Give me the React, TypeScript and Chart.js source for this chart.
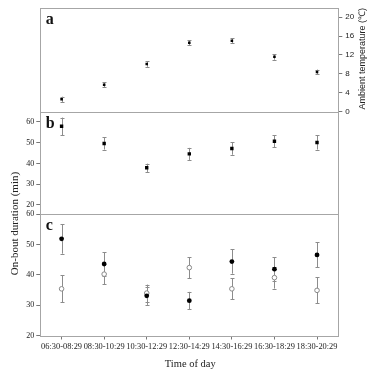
import React, { useEffect, useRef } from "react";
import { Chart, registerables } from "chart.js";
Chart.register(...registerables);

const categories = ["06:30-08:29", "08:30-10:29", "10:30-12:29", "12:30-14:29", "14:30-16:29", "16:30-18:29", "18:30-20:29"];
const temperature = [2.6, 5.7, 10.1, 14.6, 15.0, 11.6, 8.4];
const temperatureErr = [0.55, 0.55, 0.6, 0.5, 0.5, 0.6, 0.5];
const onBoutAll = [57.9, 49.6, 37.9, 44.6, 47.2, 50.7, 50.1];
const onBoutAllErr = [4.2, 2.9, 2.0, 2.9, 3.0, 3.0, 3.4];
const onBoutFilled = [51.9, 43.6, 33.1, 31.5, 44.4, 41.9, 46.6];
const onBoutFilledErr = [4.9, 3.8, 3.0, 2.9, 4.0, 3.9, 4.15];
const onBoutOpen = [35.4, 40.25, 34.0, 42.4, 35.4, 39.1, 34.9];
const onBoutOpenErr = [4.45, 3.4, 2.8, 3.45, 3.45, 3.6, 4.25];
const tempTicks = [0, 4, 8, 12, 16, 20];
const durationTicks = [20, 30, 40, 50, 60];
const panelLetters = ["a", "b", "c"];

const SERIF = "'Liberation Serif', 'Times New Roman', serif";
const SANS = "'Liberation Sans', Arial, sans-serif";
const FRAME = "#a6a6a6";
const TICKC = "#777";
const ERRC = "#8c8c8c";
const TEXT = "#222";

const errorBarPlugin = {
  id: "errorBars",
  beforeDatasetsDraw(chart: any) {
    const ctx = chart.ctx;
    chart.data.datasets.forEach((ds: any, i: number) => {
      const errs = ds.errors as number[] | undefined;
      if (!errs) return;
      const meta = chart.getDatasetMeta(i);
      const scale = chart.scales[ds.yAxisID];
      ctx.save();
      ctx.strokeStyle = ERRC;
      ctx.lineWidth = 1;
      meta.data.forEach((pt: any, j: number) => {
        const v = ds.data[j];
        const e = errs[j];
        const x = Math.round(pt.x) + 0.5;
        const yt = scale.getPixelForValue(v + e);
        const yb = scale.getPixelForValue(v - e);
        const cap = 2;
        ctx.beginPath();
        ctx.moveTo(x, yt);
        ctx.lineTo(x, yb);
        ctx.moveTo(x - cap, Math.round(yt) + 0.5);
        ctx.lineTo(x + cap, Math.round(yt) + 0.5);
        ctx.moveTo(x - cap, Math.round(yb) + 0.5);
        ctx.lineTo(x + cap, Math.round(yb) + 0.5);
        ctx.stroke();
      });
      ctx.restore();
    });
  },
};

const framePlugin = {
  id: "frame",
  beforeDatasetsDraw(chart: any) {
    const { ctx, chartArea } = chart;
    const { left, right, top, bottom } = chartArea;
    ctx.save();
    ctx.strokeStyle = FRAME;
    ctx.lineWidth = 1;
    const r = (v: number) => Math.round(v) + 0.5;
    ctx.strokeRect(r(left), r(top), Math.round(right - left), Math.round(bottom - top));
    ctx.beginPath();
    [chart.scales.yb.top, chart.scales.yc.top].forEach((y: number) => {
      ctx.moveTo(left, r(y));
      ctx.lineTo(right, r(y));
    });
    ctx.stroke();
    ctx.restore();
  },
  afterDraw(chart: any) {
    const { ctx, chartArea } = chart;
    ctx.save();
    ctx.fillStyle = "#111";
    ctx.font = `bold 16px ${SERIF}`;
    ctx.textAlign = "left";
    ctx.textBaseline = "alphabetic";
    ["ya", "yb", "yc"].forEach((id, i) => {
      ctx.fillText(panelLetters[i], chartArea.left + 5.5, chart.scales[id].top + 16);
    });
    // left title
    ctx.fillStyle = TEXT;
    ctx.font = `11px ${SERIF}`;
    ctx.textAlign = "center";
    ctx.textBaseline = "middle";
    const cy = (chart.scales.yb.top + chart.scales.yc.bottom) / 2;
    ctx.save();
    ctx.translate(15, cy);
    ctx.rotate(-Math.PI / 2);
    ctx.fillText("On-bout duration (min)", 0, 0);
    ctx.restore();
    // right title
    ctx.font = `9px ${SANS}`;
    const ay = (chart.scales.ya.top + chart.scales.ya.bottom) / 2 - 1;
    ctx.save();
    ctx.translate(363, ay);
    ctx.rotate(-Math.PI / 2);
    ctx.fillText("Ambient temperature (\u2103)", 0, 0);
    ctx.restore();
    // x title
    ctx.font = `10.5px ${SERIF}`;
    ctx.fillText("Time of day", (chartArea.left + chartArea.right) / 2 + 1, 364);
    ctx.restore();
  },
};

const fixedTicks = (vals: number[]) => (axis: any) => {
  axis.ticks = vals.map((v) => ({ value: v }));
};

const leftAxis = (weight: number, min: number, max: number, ticks: number[] | null) => ({
  type: "linear" as const,
  position: "left" as const,
  stack: "L",
  stackWeight: weight,
  min,
  max,
  display: true,
  border: { display: false },
  grid: { display: !!ticks, drawOnChartArea: false, drawTicks: !!ticks, tickLength: 4, color: TICKC },
  ticks: { display: !!ticks, autoSkip: false, font: { family: SERIF, size: 8 }, color: TEXT, padding: 2 },
  afterBuildTicks: ticks ? fixedTicks(ticks) : undefined,
  afterFit: (s: any) => {
    s.width = 40.3;
  },
});

const rightAxis = (weight: number, min: number, max: number, ticks: number[] | null) => ({
  type: "linear" as const,
  position: "right" as const,
  stack: "R",
  stackWeight: weight,
  min,
  max,
  display: true,
  border: { display: false },
  grid: { display: !!ticks, drawOnChartArea: false, drawTicks: !!ticks, tickLength: 4, color: TICKC },
  ticks: { display: !!ticks, autoSkip: false, font: { family: SANS, size: 8 }, color: TEXT, padding: 3 },
  afterBuildTicks: ticks ? fixedTicks(ticks) : undefined,
  afterFit: (s: any) => {
    s.width = 40.7;
  },
});

export default function App() {
  const ref = useRef<HTMLCanvasElement>(null);
  useEffect(() => {
    if (!ref.current) return;
    const chart = new Chart(ref.current, {
      type: "line",
      data: {
        labels: categories,
        datasets: [
          {
            data: temperature,
            errors: temperatureErr,
            yAxisID: "ya",
            showLine: false,
            pointStyle: "rect",
            pointRadius: 1.8,
            pointBackgroundColor: "#000",
            pointBorderColor: "#000",
            pointBorderWidth: 0,
          } as any,
          {
            data: onBoutAll,
            errors: onBoutAllErr,
            yAxisID: "yb",
            showLine: false,
            pointStyle: "rect",
            pointRadius: 2.4,
            pointBackgroundColor: "#000",
            pointBorderColor: "#000",
            pointBorderWidth: 0,
          } as any,
          {
            data: onBoutFilled,
            errors: onBoutFilledErr,
            yAxisID: "yc",
            showLine: false,
            pointStyle: "circle",
            pointRadius: 2.4,
            pointBackgroundColor: "#000",
            pointBorderColor: "#000",
            pointBorderWidth: 0,
          } as any,
          {
            data: onBoutOpen,
            errors: onBoutOpenErr,
            yAxisID: "yc",
            showLine: false,
            pointStyle: "circle",
            pointRadius: 2.3,
            pointBackgroundColor: "#fff",
            pointBorderColor: "#888",
            pointBorderWidth: 1,
          } as any,
        ],
      },
      options: {
        responsive: false,
        animation: false,
        events: [],
        layout: { padding: { top: 7, left: 0, right: 0, bottom: 0 } },
        plugins: { legend: { display: false }, tooltip: { enabled: false } },
        scales: {
          x: {
            type: "category",
            offset: true,
            border: { display: false },
            grid: { display: true, drawOnChartArea: false, drawTicks: true, tickLength: 4, color: TICKC, offset: false },
            ticks: { font: { family: SERIF, size: 8.4 }, color: TEXT, maxRotation: 0, autoSkip: false, padding: 2 },
            afterFit: (s: any) => {
              s.height = 38.5;
            },
          },
          yc: leftAxis(121.5, 20, 60, durationTicks),
          yb: leftAxis(103, 15.5, 65, durationTicks),
          yaL: leftAxis(104, 0, 22, null),
          ya: rightAxis(104, 0, 22, tempTicks),
          rb: rightAxis(103, 15.5, 65, null),
          rc: rightAxis(121.5, 20, 60, null),
        } as any,
      },
      plugins: [errorBarPlugin, framePlugin],
    });
    return () => chart.destroy();
  }, []);
  return (
    <div style={{ position: "absolute", left: 0, top: 0, width: 379, height: 374, background: "#fff" }}>
      <canvas ref={ref} width={379} height={374} style={{ display: "block" }} />
    </div>
  );
}
